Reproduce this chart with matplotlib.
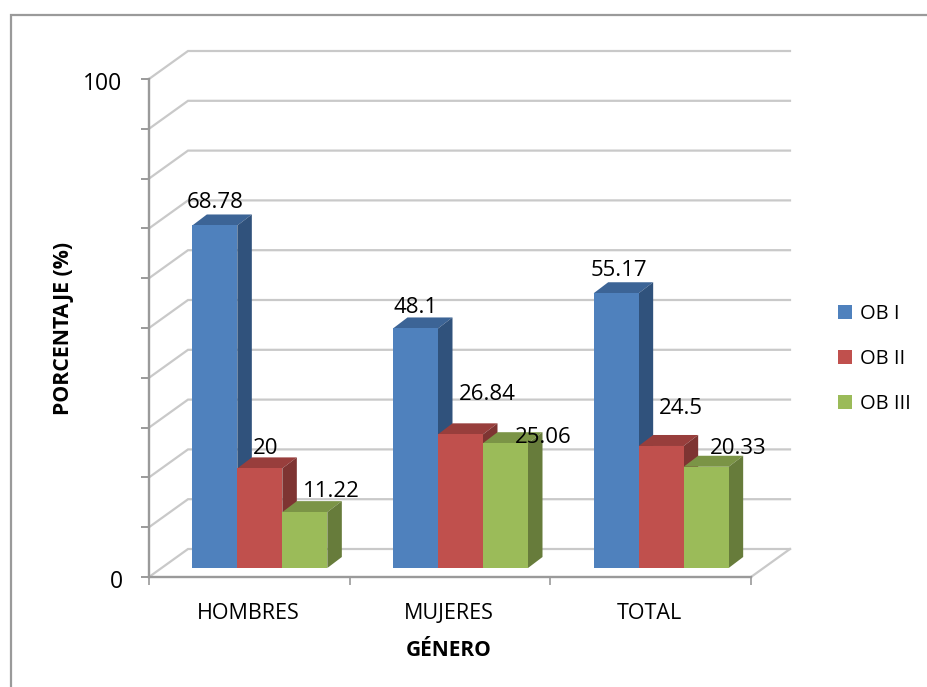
import matplotlib
matplotlib.use("Agg")
import matplotlib.pyplot as plt
from matplotlib.lines import Line2D
from matplotlib.patches import Patch, Polygon
from matplotlib.transforms import Affine2D

# ---------- data ----------
categories = ["HOMBRES", "MUJERES", "TOTAL"]
series_names = ["OB I", "OB II", "OB III"]
ob1 = [68.78, 48.1, 55.17]
ob2 = [20, 26.84, 24.5]
ob3 = [11.22, 25.06, 20.33]
y_tick_values = [0, 10, 20, 30, 40, 50, 60, 70, 80, 90, 100]
y_tick_labels = {0: "0", 100: "100"}

# ---------- style ----------
W, H = 927, 687
FONT = "Open Sans"
plt.rcParams["font.family"] = [FONT, "DejaVu Sans"]
FACE = ["#4F81BD", "#C0504D", "#9BBB59"]
TOP = ["#3C6496", "#983E3C", "#7B9446"]
SIDE = ["#30527C", "#7E3432", "#677C3B"]
GRID = "#C9C9C9"
AXIS = "#9A9A9A"

# axes box in pixels (front plane of the 3-D box)
LEFT, RIGHT, BOTTOM, TOPY = 149, 751, 577, 79
fig = plt.figure(figsize=(W / 100, H / 100), dpi=100, facecolor="white")
ax = fig.add_axes([LEFT / W, 1 - BOTTOM / H, (RIGHT - LEFT) / W, (BOTTOM - TOPY) / H])
ax.set_xlim(0, 3)
ax.set_ylim(0, 100)
ax.patch.set_visible(False)

sx = 3 / (RIGHT - LEFT)    # data per pixel, x
sy = 100 / (BOTTOM - TOPY) # data per pixel, y
BACK_X, BACK_Y = 39 * sx, 28 * sy          # wall offset
BAR_X, BAR_Y = 10.5 * sx, 9 * sy           # bar front-plane offset
DEP_X, DEP_Y = 14.5 * sx, 11 * sy          # bar depth
BAR_W = 45 * sx

# gridlines on the back wall and the side wall
for v in y_tick_values:
    ax.plot([0, BACK_X, 3 + BACK_X], [v, v + BACK_Y, v + BACK_Y],
            color=GRID, lw=1.6, clip_on=False, zorder=1, solid_joinstyle="miter")
# floor right edge
ax.plot([3, 3 + BACK_X], [0, BACK_Y], color=GRID, lw=1.6, clip_on=False, zorder=1)

# bars
for s, vals in enumerate([ob1, ob2, ob3]):
    for c, v in enumerate(vals):
        x0 = c + 0.5 + BAR_X + (s - 1.5) * BAR_W
        x1 = x0 + BAR_W
        y0 = BAR_Y
        y1 = BAR_Y + v
        z = 3 + s + c * 3
        ax.bar(x0, v, BAR_W, bottom=y0, align="edge", color=FACE[s], lw=0,
               clip_on=False, zorder=z + 0.2)
        ax.add_patch(Polygon([(x0, y1), (x1, y1), (x1 + DEP_X, y1 + DEP_Y), (x0 + DEP_X, y1 + DEP_Y)],
                             closed=True, fc=TOP[s], lw=0, clip_on=False, zorder=z))
        ax.add_patch(Polygon([(x1, y0), (x1, y1), (x1 + DEP_X, y1 + DEP_Y), (x1 + DEP_X, y0 + DEP_Y)],
                             closed=True, fc=SIDE[s], lw=0, clip_on=False, zorder=z))

# value labels: pixel offsets from the top-centre of each bar's front face
label_offsets = [
    [(0, 23), (6, 20), (27, 21)],
    [(0, 21), (27, 40), (38, 6)],
    [(3, 23), (20, 37), (32, 18)],
]
for s, vals in enumerate([ob1, ob2, ob3]):
    for c, v in enumerate(vals):
        xc = c + 0.5 + BAR_X + (s - 1) * BAR_W
        ox, oy = label_offsets[c][s]
        ax.annotate(f"{v:g}", (xc, BAR_Y + v), xytext=(ox, oy), textcoords="offset pixels",
                    ha="center", va="center", fontsize=16, color="black",
                    annotation_clip=False, zorder=30)

# axes furniture
for side in ("top", "right"):
    ax.spines[side].set_visible(False)
for side in ("left", "bottom"):
    ax.spines[side].set_color(AXIS)
    ax.spines[side].set_linewidth(1.7)
    ax.spines[side].set_zorder(2)

ax.set_yticks(y_tick_values)
ax.set_yticklabels([y_tick_labels.get(v, "") for v in y_tick_values], fontsize=16.5)
ax.tick_params(axis="y", length=6, width=1.4, color=AXIS, pad=13, direction="out")
ax.set_xticks([0, 1, 2, 3])
ax.set_xticklabels([])
ax.set_xticks([0.5, 1.5, 2.5], minor=True)
ax.set_xticklabels(categories, minor=True, fontsize=15.5)
ax.tick_params(axis="x", which="major", length=6, width=1.2, color=AXIS)
ax.tick_params(axis="x", which="minor", length=0, pad=19)
for lbl in ax.get_yticklabels():
    lbl.set_transform(lbl.get_transform() + Affine2D().translate(0, -2))
for lbl in ax.get_xticklabels(minor=True):
    lbl.set_transform(lbl.get_transform() + Affine2D().translate(-1, 0))

fig.text(63 / W, 1 - 328 / H, "PORCENTAJE (%)", rotation=90, ha="center", va="center",
         fontsize=15.3, fontweight="bold")
fig.text(449 / W, 1 - 650 / H, "GÉNERO", ha="center", va="center",
         fontsize=15, fontweight="bold")

# legend
handles = [Patch(fc=FACE[i], lw=0) for i in range(3)]
fig.legend(handles, series_names, loc="upper left", bbox_to_anchor=(838 / W, 1 - 304 / H),
           frameon=False, fontsize=14.5, handlelength=0.7, handleheight=0.7,
           handletextpad=0.4, labelspacing=1.25, borderpad=0, borderaxespad=0)

# outer chart frame
fig.add_artist(Line2D([11 / W, 11 / W, 927 / W], [0, 1 - 15 / H, 1 - 15 / H],
                      color="#9A9A9A", lw=1.6, solid_joinstyle="miter"))

fig.savefig("out.png", dpi=100)
